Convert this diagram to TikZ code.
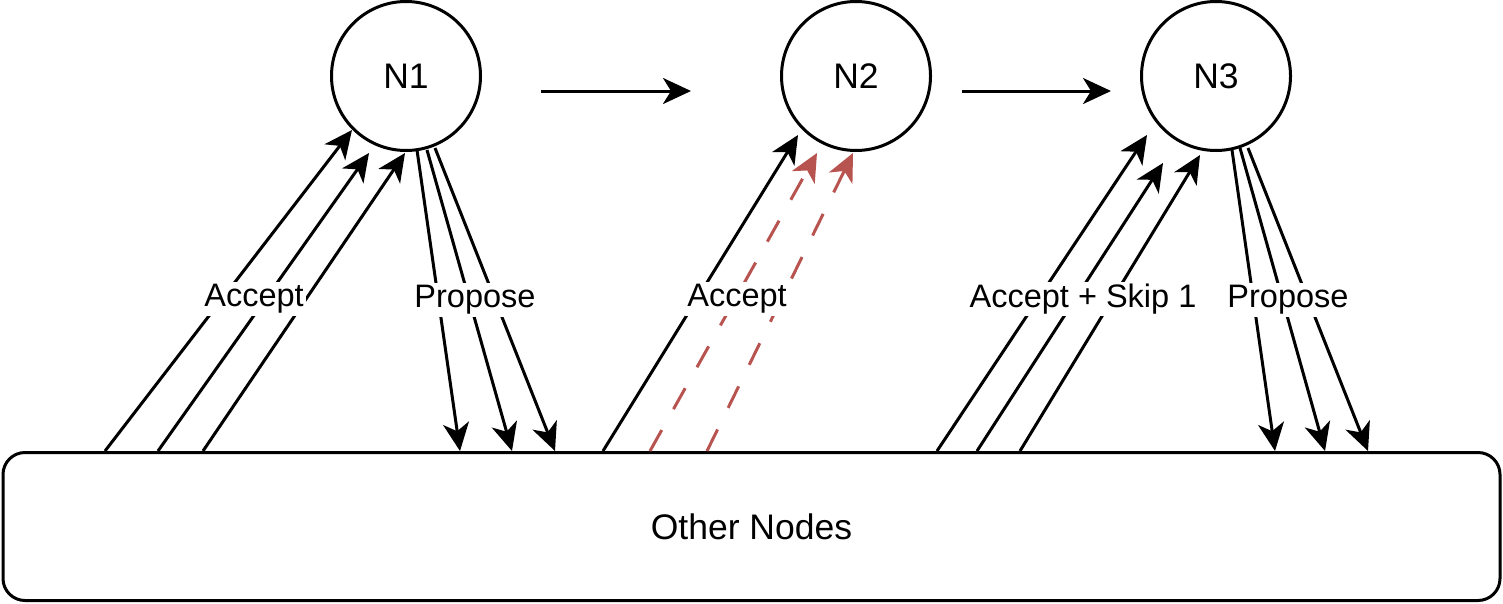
\documentclass[tikz,border=0pt]{standalone}
\usepackage{fontspec}
\setmainfont{Liberation Sans}
\usetikzlibrary{arrows.meta,calc}
\definecolor{latered}{RGB}{184,84,80}

\begin{document}
\begin{tikzpicture}[x=1pt,y=-1pt,line width=3pt,
    peer/.style={draw, circle, minimum size=149pt, inner sep=0pt, font=\fontsize{35.5}{42}\selectfont},
    pool/.style={draw, rounded corners=22pt, minimum width=1497pt, minimum height=148pt, font=\fontsize{35.5}{42}\selectfont},
    msg/.style={-{Stealth[length=28pt,width=26pt,inset=8pt]}},
    late/.style={msg, draw=latered, dash pattern=on 24pt off 24pt},
    lbl/.style={fill=white, inner sep=2pt, font=\fontsize{32.5}{39}\selectfont}]

  \useasboundingbox (0,0) rectangle (1503,603);

  \node[peer] (n1) at (406,76) {N1};
  \node[peer] (n2) at (856,76) {N2};
  \node[peer] (n3) at (1216,76) {N3};
  \node[pool] (others) at (751.5,526.5) {Other Nodes};

  % leader hand-over
  \coordinate (go1) at (541,91);
  \coordinate (to1) at (691,91);
  \coordinate (go2) at (962,91);
  \coordinate (to2) at (1111,91);
  \draw[msg] (go1) -- (to1);
  \draw[msg] (go2) -- (to2);

  % N1
  \draw[msg] (105,0 |- others.north) -- ($(n1)+(-54,54)$);
  \draw[msg] (158,0 |- others.north) -- ($(n1)+(-37,77)$);
  \draw[msg] (203,0 |- others.north) -- ($(n1)+(-1,77)$);
  \draw[msg] ($(n1)+(11,74)$) -- (460,0 |- others.north);
  \draw[msg] ($(n1)+(21,74)$) -- (512,0 |- others.north);
  \draw[msg] ($(n1)+(29,72)$) -- (555,0 |- others.north);

  % N2
  \draw[msg] (603,0 |- others.north) -- ($(n2)+(-58,59)$);
  \draw[late] (650,0 |- others.north) -- ($(n2)+(-39,77)$);
  \draw[late] (707,0 |- others.north) -- ($(n2)+(-3,77)$);

  % N3
  \draw[msg] (937,0 |- others.north) -- ($(n3)+(-69,59)$);
  \draw[msg] (977,0 |- others.north) -- ($(n3)+(-53,87)$);
  \draw[msg] (1020,0 |- others.north) -- ($(n3)+(-16,79)$);
  \draw[msg] ($(n3)+(16,74)$) -- (1275,0 |- others.north);
  \draw[msg] ($(n3)+(24,72)$) -- (1325,0 |- others.north);
  \draw[msg] ($(n3)+(32,72)$) -- (1368,0 |- others.north);

  \node[lbl] (acc1) at (254,299) {Accept};
  \node[lbl] (prop1) at (475,300) {Propose};
  \node[lbl] (acc2) at (737,299) {Accept};
  \node[lbl] (acc3) at (1083,299) {Accept + Skip 1};
  \node[lbl] (prop3) at (1288,300) {Propose};

\end{tikzpicture}
\end{document}
